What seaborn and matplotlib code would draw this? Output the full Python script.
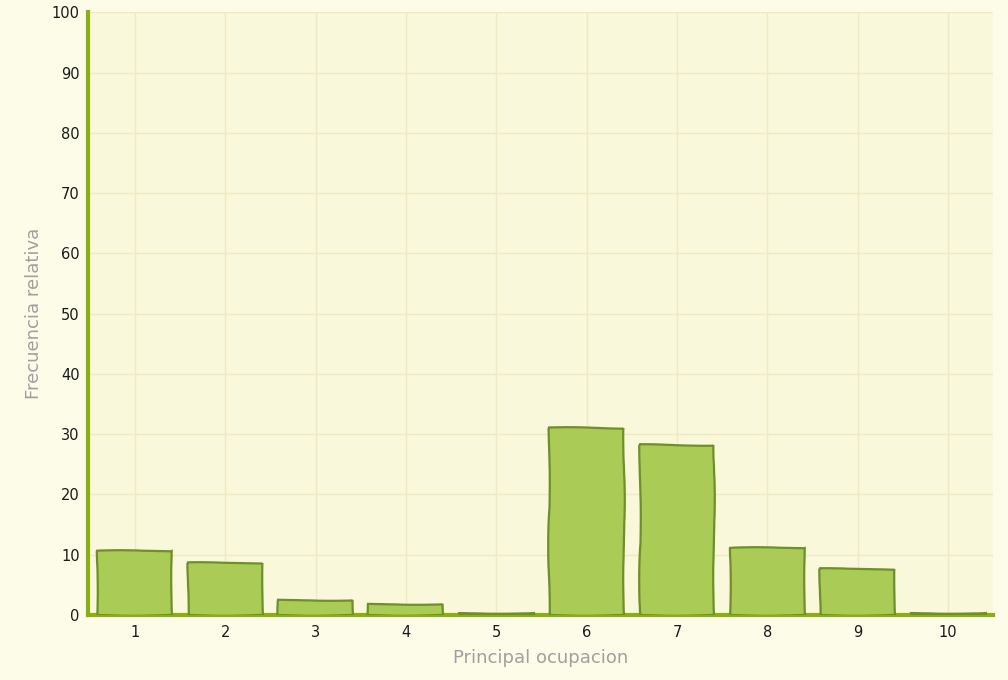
import numpy as np
import pandas as pd
import matplotlib
matplotlib.use("Agg")
import matplotlib.pyplot as plt
import seaborn as sns

# --- data ---
ocupacion = ["1", "2", "3", "4", "5", "6", "7", "8", "9", "10"]
frecuencia = [10.6, 8.7, 2.5, 1.8, 0.3, 31.0, 28.2, 11.1, 7.6, 0.3]
y_ticks = [0, 10, 20, 30, 40, 50, 60, 70, 80, 90, 100]

df = pd.DataFrame({"ocupacion": ocupacion, "frecuencia": frecuencia})

sns.set_style("whitegrid")
plt.rcParams["font.family"] = ["DejaVu Sans"]

green_axis = "#8cae12"
grid_col = "#efeac4"

fig = plt.figure(figsize=(10.08, 6.8), dpi=100, facecolor="#fcfce9")
ax = fig.add_axes([0.0873, 0.0956, 0.898, 0.8864])
ax.set_facecolor("#f9f8da")

sns.barplot(data=df, x="ocupacion", y="frecuencia", order=ocupacion,
            color="#a8c850", saturation=1, width=0.83, ax=ax,
            edgecolor="#6f8f2a", linewidth=1.6, zorder=3)

# slightly hand-drawn look on the bars
for p in ax.patches:
    p.set_sketch_params(scale=0.8, length=200, randomness=4)
    p.set_facecolor("#aacb55")

ax.set_xlim(-0.52, 9.5)
ax.set_ylim(0, 100)
ax.set_yticks(y_ticks)

ax.grid(True, color=grid_col, linewidth=1, zorder=0)
ax.set_axisbelow(True)

for side in ["top", "right"]:
    ax.spines[side].set_visible(False)
for side in ["left", "bottom"]:
    ax.spines[side].set_color(green_axis)
    ax.spines[side].set_linewidth(3)

ax.tick_params(axis="both", colors=green_axis, length=4, width=2,
               labelcolor="#1a1a1a", labelsize=10.5)
ax.tick_params(axis="y", pad=2)

ax.set_xlabel("Principal ocupacion", color="#a0a0a0", fontsize=13, labelpad=6)
ax.set_ylabel("Frecuencia relativa", color="#a0a0a0", fontsize=13, labelpad=6)

fig.savefig("out.png", dpi=100, facecolor=fig.get_facecolor())
